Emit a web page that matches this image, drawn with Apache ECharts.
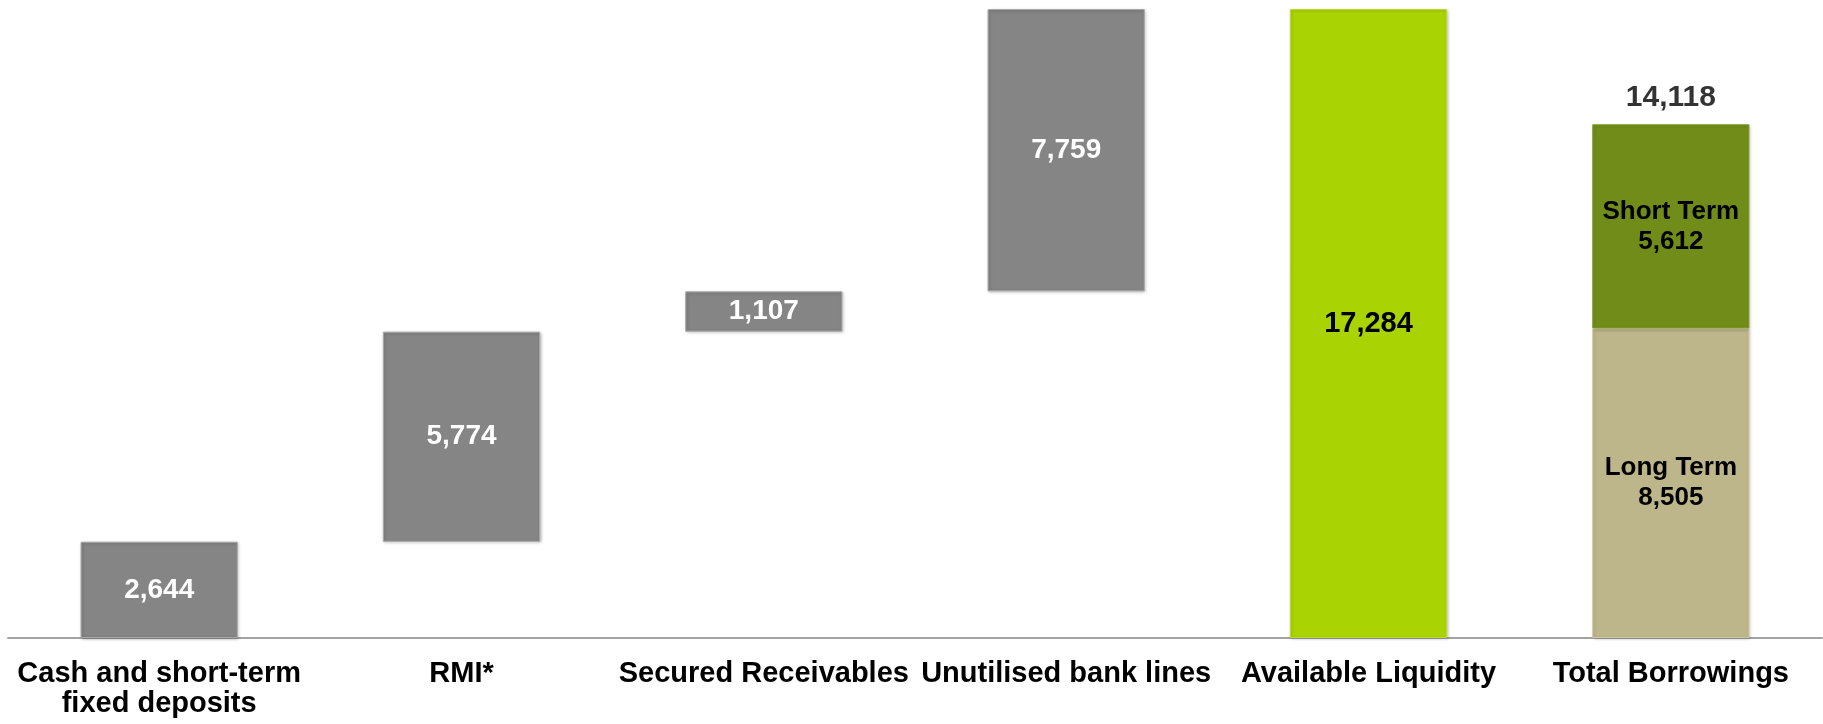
<!DOCTYPE html>
<html>
<head>
<meta charset="utf-8">
<script src="https://cdn.jsdelivr.net/npm/echarts@6/dist/echarts.min.js"></script>
<style>
html,body{margin:0;padding:0;background:#fff;}
#chart{width:1823px;height:724px;}
</style>
</head>
<body>
<div id="chart"></div>
<script>
// ---- data ----
var categories = ['Cash and short-term\nfixed deposits', 'RMI*', 'Secured Receivables', 'Unutilised bank lines', 'Available Liquidity', 'Total Borrowings'];
var stepValues = [2644, 5774, 1107, 7759];          // waterfall components
var availableLiquidity = 17284;
var longTerm = 8505;
var shortTerm = 5612;
var totalBorrowings = 14118;

// ---- build series arrays ----
var baseData = [], stepData = [];
var running = 0;
for (var i = 0; i < categories.length; i++) {
  if (i < stepValues.length) {
    baseData.push(running);
    stepData.push(stepValues[i]);
    running += stepValues[i];
  } else {
    baseData.push('-');
    stepData.push('-');
  }
}
var availData = ['-', '-', '-', '-', availableLiquidity, '-'];
var longData = ['-', '-', '-', '-', '-', longTerm];
var shortData = ['-', '-', '-', '-', '-', shortTerm];
var totalData = ['-', '-', '-', '-', '-', totalBorrowings];

function fmt(v) { return Number(v).toLocaleString('en-US'); }

var FONT = '"Liberation Sans", Arial, sans-serif';
var chart = echarts.init(document.getElementById('chart'), null, {renderer: 'canvas'});
chart.setOption({
  animation: false,
  backgroundColor: '#ffffff',
  grid: {left: 8, right: 1, top: 9, bottom: 86, containLabel: false},
  xAxis: {
    type: 'category',
    data: categories,
    axisLine: {show: true, lineStyle: {color: '#a3a3a3', width: 2}},
    axisTick: {show: false},
    axisLabel: {
      interval: 0, margin: 21, color: '#000', fontFamily: FONT, fontWeight: 'bold',
      fontSize: 29, lineHeight: 30
    }
  },
  yAxis: {
    type: 'value', show: false, min: 0,
    max: function (v) { return v.max; },
    splitLine: {show: false}
  },
  series: [
    {
      name: 'base', type: 'bar', stack: 'w', data: baseData, barWidth: '52%',
      itemStyle: {color: 'rgba(0,0,0,0)'}, silent: true
    },
    {
      name: 'components', type: 'bar', stack: 'w', data: stepData, barWidth: '52%',
      itemStyle: {color: '#858585', borderColor: '#a8a8a8', borderWidth: 1,
        shadowColor: 'rgba(0,0,0,0.25)', shadowBlur: 3, shadowOffsetX: 1, shadowOffsetY: 1},
      label: {show: true, position: 'inside', color: '#fff', fontFamily: FONT, fontWeight: 'bold', fontSize: 28,
        formatter: function (p) { return fmt(p.value); }}
    },
    {
      name: 'Available Liquidity', type: 'bar', stack: 'w', data: availData, barWidth: '52%',
      itemStyle: {color: '#aad304', borderColor: '#b9dc30', borderWidth: 1,
        shadowColor: 'rgba(0,0,0,0.2)', shadowBlur: 3, shadowOffsetX: 1, shadowOffsetY: 1},
      label: {show: true, position: 'inside', color: '#000', fontFamily: FONT, fontWeight: 'bold', fontSize: 29,
        formatter: function (p) { return fmt(p.value); }}
    },
    {
      name: 'Long Term', type: 'bar', stack: 'w', data: longData, barWidth: '52%',
      itemStyle: {color: '#bdb68a', borderColor: '#cfc9a0', borderWidth: 1,
        shadowColor: 'rgba(0,0,0,0.2)', shadowBlur: 3, shadowOffsetX: 1, shadowOffsetY: 1},
      label: {show: true, position: 'inside', color: '#000', fontFamily: FONT, fontWeight: 'bold', fontSize: 26, lineHeight: 30,
        formatter: function (p) { return 'Long Term\n' + fmt(p.value); }}
    },
    {
      name: 'Short Term', type: 'bar', stack: 'w', data: shortData, barWidth: '52%',
      itemStyle: {color: '#728c1a', borderColor: '#85a02a', borderWidth: 1,
        shadowColor: 'rgba(0,0,0,0.2)', shadowBlur: 3, shadowOffsetX: 1, shadowOffsetY: 1},
      label: {show: true, position: 'inside', color: '#000', fontFamily: FONT, fontWeight: 'bold', fontSize: 26, lineHeight: 30,
        formatter: function (p) { return 'Short Term\n' + fmt(p.value); }}
    },
    {
      name: 'Total', type: 'scatter', data: totalData, symbolSize: 0,
      label: {show: true, position: 'top', distance: 11, color: '#000', fontFamily: FONT, fontWeight: 'bold', fontSize: 30,
        formatter: function (p) { return fmt(p.value); }}
    }
  ]
});
</script>
</body>
</html>
